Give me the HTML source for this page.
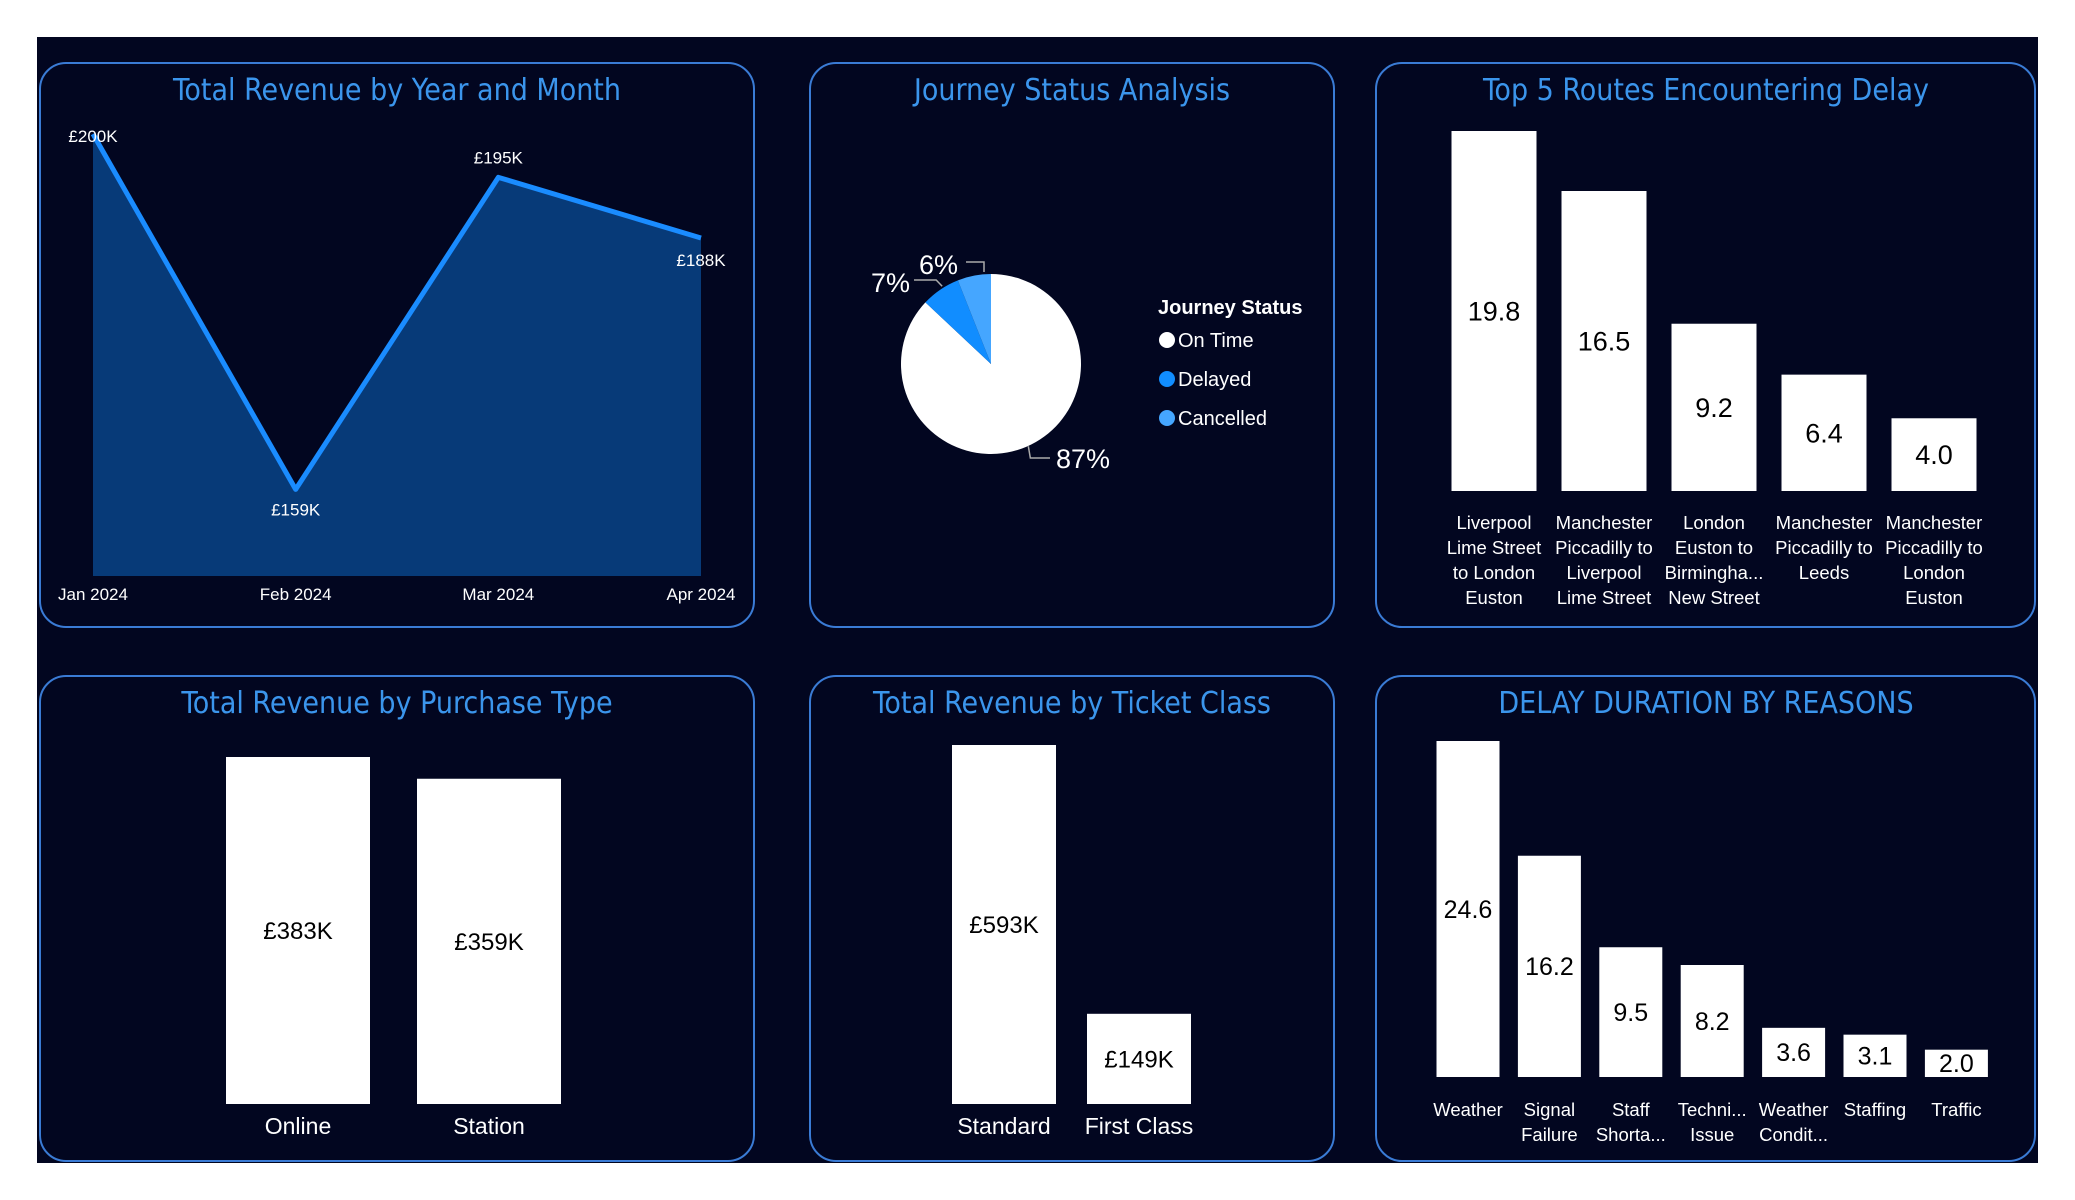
<!DOCTYPE html>
<html><head><meta charset="utf-8"><style>
html,body{margin:0;padding:0;background:#fff;width:2075px;height:1200px;overflow:hidden}
svg{display:block}
.t{font-family:"Liberation Sans Narrow","DejaVu Sans Condensed","Liberation Sans",sans-serif;fill:#3b95ec;font-size:30px;text-anchor:middle}
.w{font-family:"Liberation Sans","DejaVu Sans",sans-serif;fill:#fff}
.b{font-family:"Liberation Sans","DejaVu Sans",sans-serif;fill:#000}
</style></head><body>
<svg id="s" width="2075" height="1200" xmlns="http://www.w3.org/2000/svg">
<rect x="37" y="37" width="2001" height="1126" fill="#020620"/>
<g fill="none" stroke="#3a7bd5" stroke-width="2">
<rect x="40" y="63" width="714" height="564" rx="26"/>
<rect x="810" y="63" width="524" height="564" rx="26"/>
<rect x="1376" y="63" width="659" height="564" rx="26"/>
<rect x="40" y="676" width="714" height="485" rx="26"/>
<rect x="810" y="676" width="524" height="485" rx="26"/>
<rect x="1376" y="676" width="659" height="485" rx="26"/>
</g>
<text class="t" x="397" y="100">Total Revenue by Year and Month</text>
<text class="t" x="1072" y="100">Journey Status Analysis</text>
<text class="t" x="1706" y="100">Top 5 Routes Encountering Delay</text>
<text class="t" x="397" y="713">Total Revenue by Purchase Type</text>
<text class="t" x="1072" y="713">Total Revenue by Ticket Class</text>
<text class="t" x="1706" y="713">DELAY DURATION BY REASONS</text>
<g id="g"></g>
</svg>
<script>
const months=["Jan 2024","Feb 2024","Mar 2024","Apr 2024"];
const revenue=[200,159,195,188];
const statusNames=["On Time","Delayed","Cancelled"];
const statusPct=[87,7,6];
const routes=[["Liverpool","Lime Street","to London","Euston"],["Manchester","Piccadilly to","Liverpool","Lime Street"],["London","Euston to","Birmingha...","New Street"],["Manchester","Piccadilly to","Leeds"],["Manchester","Piccadilly to","London","Euston"]];
const routeDelay=[19.8,16.5,9.2,6.4,4.0];
const purchaseTypes=["Online","Station"];
const purchaseRev=[383,359];
const ticketClasses=["Standard","First Class"];
const ticketRev=[593,149];
const reasons=[["Weather"],["Signal","Failure"],["Staff","Shorta..."],["Techni...","Issue"],["Weather","Condit..."],["Staffing"],["Traffic"]];
const reasonDelay=[24.6,16.2,9.5,8.2,3.6,3.1,2.0];

const NS="http://www.w3.org/2000/svg",G=document.getElementById('g');
function mk(t,a,txt){const e=document.createElementNS(NS,t);for(const k in a)e.setAttribute(k,a[k]);if(txt!==undefined)e.textContent=txt;G.appendChild(e);return e;}

const lx=i=>93+i*(701-93)/(months.length-1);
const ly=v=>576-(v-149)/(200-149)*(576-134);
let pts=revenue.map((v,i)=>lx(i)+","+ly(v)).join(" ");
let area=mk('polygon',{points:lx(0)+",576 "+pts+" "+lx(revenue.length-1)+",576",fill:"#073a78"});


let line=mk('polyline',{points:pts,fill:"none",stroke:"#1a8cff","stroke-width":5,"stroke-linejoin":"round"});


revenue.forEach((v,i)=>{
  const below=i>0&&(v<revenue[i-1]);
  let dy=i==0?8:(i==revenue.length-1?28:(below?26:-14));
  let lab=mk('text',{class:"w",x:lx(i),y:ly(v)+dy,"font-size":17,"text-anchor":"middle"},"£"+v+"K");
  
  
  let m=mk('text',{class:"w",x:lx(i),y:600,"font-size":17,"text-anchor":"middle"},months[i]);
  
  
});

const cx=991,cy=364,r=90,cols=["#ffffff","#118dff","#45a6ff"];
let tot=statusPct.reduce((a,b)=>a+b,0),acc=0;
statusPct.forEach((p,i)=>{
  const a0=acc/tot*2*Math.PI,a1=(acc+p)/tot*2*Math.PI;acc+=p;
  const x0=cx+r*Math.sin(a0),y0=cy-r*Math.cos(a0),x1=cx+r*Math.sin(a1),y1=cy-r*Math.cos(a1);
  let s=mk('path',{d:`M${cx},${cy}L${x0},${y0}A${r},${r} 0 ${a1-a0>Math.PI?1:0} 1 ${x1},${y1}Z`,fill:cols[i]});
  
  
  const am=(a0+a1)/2,ex=cx+(r+4)*Math.sin(am),ey=cy-(r+4)*Math.cos(am);
  let lx2,ly2,anchor,hx,hy;
  if(i==0){lx2=1056;ly2=468;anchor="start";hy=458;hx=1050;}
  else if(i==1){lx2=910;ly2=292;anchor="end";hy=280;hx=914;}
  else{lx2=958;ly2=274;anchor="end";hy=262;hx=984;}
  let path=i==0?`${ex},${ey-4} ${ex+2},${hy} ${hx},${hy}`:(i==1?`${ex+4},${ey} ${ex-2},${hy} ${hx},${hy}`:`${hx-18},${hy} ${hx},${hy} ${hx},${hy+10}`);
  let ll=mk('polyline',{points:path,fill:"none",stroke:"#aaa","stroke-width":1.5});
  
  
  let t=mk('text',{class:"w",x:lx2,y:ly2,"font-size":27,"text-anchor":anchor},p+"%");
  
  
});
let lt=mk('text',{class:"w",x:1158,y:314,"font-size":20,"font-weight":"bold"},"Journey Status");


statusNames.forEach((n,i)=>{
  const y=340+i*39;
  let c=mk('circle',{cx:1167,cy:y,r:8,fill:cols[i]});
  
  
  let t=mk('text',{class:"w",x:1178,y:y+7,"font-size":20},n);
  
  
});

function bars(vals,cats,centers,w,base,maxH,maxV,fmt,fs,labY,labFs,labStep,name){
  vals.forEach((v,i)=>{
    const h=v/maxV*maxH,x=centers[i]-w/2;
    let b=mk('rect',{x:x,y:base-h,width:w,height:h,fill:"#fff"});
    
    
    let t=mk('text',{class:"b",x:centers[i],y:base-h/2+fs*0.35,"font-size":fs,"text-anchor":"middle"},fmt(v));
    
    
    cats[i].forEach((ln,j)=>{
      let c=mk('text',{class:"w",x:centers[i],y:labY+j*labStep,"font-size":labFs,"text-anchor":"middle"},ln);
      
      
    });
  });
}
bars(routeDelay,routes,routeDelay.map((_,i)=>1494+i*110),85,491,360,19.8,v=>v.toFixed(1),27,529,18.5,25,'route');
bars(purchaseRev,purchaseTypes.map(s=>[s]),[298,489],144,1104,347,383,v=>"£"+v+"K",24,1134,23,0,'purchase');
bars(ticketRev,ticketClasses.map(s=>[s]),[1004,1139],104,1104,359,593,v=>"£"+v+"K",24,1134,23,0,'ticket');
bars(reasonDelay,reasons,reasonDelay.map((_,i)=>1468+i*81.4),63,1077,336,24.6,v=>v.toFixed(1),25,1116,18.5,25,'reason');
</script>
</body></html>
